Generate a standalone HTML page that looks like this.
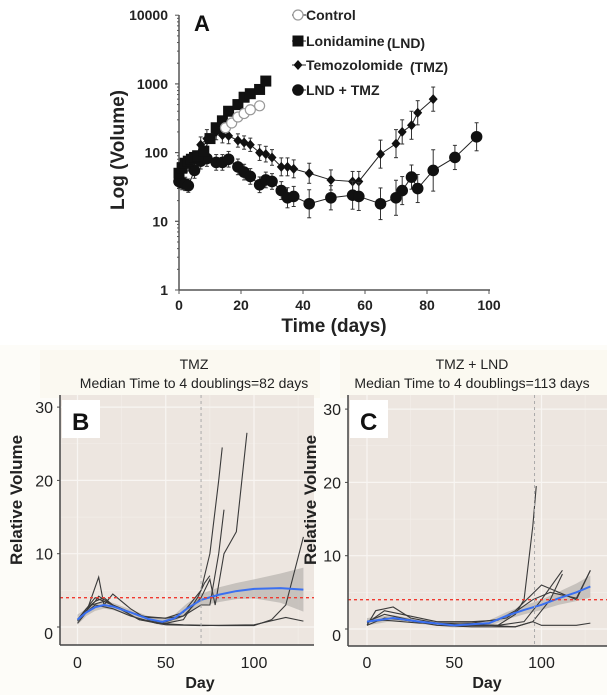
<!DOCTYPE html>
<html><head><meta charset="utf-8"><style>
html,body{margin:0;padding:0;background:#fff;}
svg{display:block;font-family:"Liberation Sans",Arial,sans-serif;}
</style></head><body>
<svg id="fig" width="607" height="695" viewBox="0 0 607 695" xmlns="http://www.w3.org/2000/svg">
<rect x="0" y="345" width="607" height="350" fill="#fdfcf8"/>
</svg>
<script>
// ---------- Panel A data ----------
const ctrlDays=[15,17,19,21,23,26];
const ctrlVals=[230,270,330,370,420,480];
const lndDays=[0,1,2,3,4,5,6,8,10,12,14,16,19,21,23,26,28];
const lndVals=[50,60,70,75,80,85,90,105,160,230,290,400,500,640,720,830,1100];
const tmzDays=[0,1,2,3,5,7,9,12,14,16,19,21,23,26,28,30,33,35,37,42,49,56,58,65,70,72,75,77,82];
const tmzVals=[55,60,65,70,80,130,160,200,180,175,150,140,130,100,95,85,62,62,58,50,40,38,38,95,135,200,250,380,600];
const tmzErr=[1.3,1.3,1.3,1.3,1.3,1.3,1.35,1.3,1.3,1.3,1.25,1.25,1.25,1.3,1.3,1.3,1.35,1.35,1.35,1.4,1.4,1.4,1.4,1.6,1.6,1.5,1.6,1.5,1.5];
const comboDays=[0,1,2,3,5,7,9,12,14,16,19,21,23,26,28,30,33,35,37,42,49,56,58,65,70,72,75,77,82,89,96];
const comboVals=[38,36,35,33,55,75,82,72,72,80,62,52,45,34,40,38,28,22,23,18,22,24,23,18,22,28,44,30,55,85,170];
const comboErr=[1.25,1.25,1.25,1.25,1.3,1.3,1.3,1.3,1.3,1.3,1.3,1.3,1.3,1.3,1.3,1.3,1.35,1.4,1.4,1.6,1.5,1.6,1.6,1.7,1.8,1.6,1.5,1.6,2,1.5,1.6];
const aXTicks=[0,20,40,60,80,100];
const aYTicks=[1,10,100,1000,10000];

// ---------- Panel B data ----------
const bLines=[
 [[0,1],[5,2.5],[10,3.5],[15,4],[20,3],[30,2],[40,1.3],[50,1.2],[60,2],[70,5],[75,10],[80,20],[82,24.5]],
 [[0,0.5],[5,2],[12,6.8],[15,3],[20,4.5],[30,2.5],[40,1],[50,0.7],[60,1.5],[70,4],[75,6.5],[78,3],[83,10],[90,13],[96,26.5]],
 [[0,0.8],[8,3],[15,3.5],[25,2.5],[35,1.5],[50,1.2],[60,1.5],[70,3],[75,3],[80,10],[83,16]],
 [[0,1],[10,3],[20,2.5],[30,1.5],[45,0.5],[60,0.3],[80,0.2],[100,0.2],[110,1],[118,3],[128,12.3]],
 [[0,1],[10,4],[20,3],[35,1],[50,0.3],[70,0.2],[100,0.3],[118,1.3],[128,0.8]],
 [[0,1],[10,3.5],[12,4.2],[20,3],[35,1],[50,0.5],[60,1],[68,4],[72,6],[75,7]]
];
const bFitDays=[0,5,10,15,20,30,40,48,55,62,70,80,90,100,115,128];
const bFitVals=[1,2,2.7,3,2.8,2,1.1,0.7,1.2,2.5,3.7,4.4,4.9,5.2,5.3,5.1];
const bFitSe=[0.7,0.5,0.5,0.5,0.5,0.4,0.4,0.5,0.5,0.7,0.8,1,1.1,1.3,2,3];
// ---------- Panel C data ----------
const cLines=[
 [[0,0.5],[5,2.5],[15,3],[25,1.5],[40,0.8],[60,0.5],[75,0.5],[85,2],[90,4],[95,14],[97,19.5]],
 [[0,0.8],[10,2.5],[20,2],[40,1],[60,1],[75,1.2],[85,2.5],[100,6],[110,5],[120,4],[128,8]],
 [[0,1],[10,2],[30,1],[50,0.6],[75,0.5],[90,1],[100,4],[112,8]],
 [[0,0.5],[10,1.5],[30,1],[50,0.5],[70,0.5],[85,0.3],[95,1],[105,4],[112,7.5]],
 [[0,1],[15,1.5],[40,0.5],[60,0.3],[85,0.3],[95,1],[100,0.5],[120,0.5],[128,0.8]],
 [[0,1],[10,1.2],[30,0.8],[60,0.8],[80,1.5],[95,4],[105,5],[120,4.2],[128,8]]
];
const cFitDays=[0,15,30,50,70,80,90,100,110,120,128];
const cFitVals=[1,1.5,1,0.5,0.8,1.8,2.6,3.3,4.2,5,5.8];
const cFitSe=[0.5,0.4,0.3,0.3,0.4,0.5,0.6,0.7,0.9,1.2,1.5];
const relYTicks=[0,10,20,30];
const dayTicks=[0,50,100];

const NS="http://www.w3.org/2000/svg";
const svg=document.getElementById('fig');
function mk(tag,attrs,parent){const e=document.createElementNS(NS,tag);for(const k in attrs)e.setAttribute(k,attrs[k]);(parent||svg).appendChild(e);return e;}
function txt(s,attrs,parent){const e=mk('text',attrs,parent);e.textContent=s;return e;}

// ===== Panel A =====
const ax=d=>179+d*3.1;
const ay=v=>290-Math.log10(v)*68.7;
const gA=mk('g',{});


let l=mk('line',{x1:179,y1:15,x2:179,y2:290,stroke:'#555','stroke-width':1.5},gA);

l=mk('line',{x1:179,y1:290,x2:490,y2:290,stroke:'#555','stroke-width':1.5},gA);

for(let dec=0;dec<4;dec++){for(let m=1;m<=10;m++){const v=Math.pow(10,dec)*m;mk('line',{x1:m===1||m===10?175:177,y1:ay(v),x2:179,y2:ay(v),stroke:'#555','stroke-width':1},gA);}}
aYTicks.forEach(v=>{const t=txt(String(v),{x:168,y:ay(v)+5,'text-anchor':'end','font-size':14,'font-weight':'bold',fill:'#222'},gA);
});
aXTicks.forEach(d=>{mk('line',{x1:ax(d),y1:290,x2:ax(d),y2:294,stroke:'#555'},gA);
const t=txt(String(d),{x:ax(d),y:310,'text-anchor':'middle','font-size':14,'font-weight':'bold',fill:'#222'},gA);
});
let t=txt('Log (Volume)',{x:0,y:0,transform:'translate(124,150) rotate(-90)','text-anchor':'middle','font-size':19,'font-weight':'bold',fill:'#222'},gA);

t=txt('Time (days)',{x:334,y:332,'text-anchor':'middle','font-size':19,'font-weight':'bold',fill:'#222'},gA);

t=txt('A',{x:194,y:31,'font-size':22,'font-weight':'bold',fill:'#111'},gA);


function marker(type,x,y,g){
 if(type==='sq')return mk('rect',{x:x-5.5,y:y-5.5,width:11,height:11,fill:'#111'},g);
 if(type==='dia')return mk('path',{d:`M${x},${y-5}L${x+4.5},${y}L${x},${y+5}L${x-4.5},${y}Z`,fill:'#111'},g);
 if(type==='circ')return mk('circle',{cx:x,cy:y,r:5.8,fill:'#111'},g);
 return mk('circle',{cx:x,cy:y,r:5,fill:'#fff',stroke:'#999','stroke-width':1.2},g);
}
function seriesA(days,vals,err,type,name){
 const g=mk('g',{},gA);
 
 if(err){days.forEach((d,i)=>{const x=ax(d);mk('line',{x1:x,y1:ay(vals[i]*err[i]),x2:x,y2:ay(vals[i]/err[i]),stroke:'#333','stroke-width':1},g);
 mk('line',{x1:x-2,y1:ay(vals[i]*err[i]),x2:x+2,y2:ay(vals[i]*err[i]),stroke:'#333'},g);
 mk('line',{x1:x-2,y1:ay(vals[i]/err[i]),x2:x+2,y2:ay(vals[i]/err[i]),stroke:'#333'},g);});}
 mk('polyline',{points:days.map((d,i)=>ax(d)+','+ay(vals[i])).join(' '),fill:'none',stroke:type==='open'?'#999':'#222','stroke-width':1},g);
 days.forEach((d,i)=>{const m=marker(type,ax(d),ay(vals[i]),g);
 });
}
seriesA(tmzDays,tmzVals,tmzErr,'dia','tmz-series');
seriesA(comboDays,comboVals,comboErr,'circ','lnd-tmz-series');
seriesA(lndDays,lndVals,null,'sq','lnd-series');
seriesA(ctrlDays,ctrlVals,null,'open','control-series');

// legend
const legend=[['open','Control','',15],['sq','Lonidamine','(LND)',41],['dia','Temozolomide','(TMZ)',65],['circ','LND + TMZ','',90]];
legend.forEach(([ty,a,b,y])=>{const g=mk('g',{},gA);
 
 mk('line',{x1:292,y1:y,x2:306,y2:y,stroke:'#222'},g);marker(ty,298,y,g);
 txt(a,{x:306,y:y+5,'font-size':14,'font-weight':'bold',fill:'#222'},g);
 if(b){txt(b,{x:306+(a==='Lonidamine'?81:104),y:y+7,'font-size':14,'font-weight':'bold',fill:'#222'},g);}
});

// ===== Panels B & C =====
function facet(o){
 const g=mk('g',{});
 
 const X=d=>o.x0+d*o.xs, Y=v=>o.y0-v*7.33;
 mk('rect',{x:o.tx0,y:350,width:o.tx1-o.tx0,height:48,fill:'#fbf9f1'},g);
 let r=mk('rect',{x:o.px0,y:395,width:o.px1-o.px0,height:o.pb-395,fill:'#ede6e0'},g);
 
 [5,15,25].forEach(v=>mk('line',{x1:o.px0,x2:o.px1,y1:Y(v),y2:Y(v),stroke:'#f4efea','stroke-width':0.6},g));
 [25,75,125].forEach(d=>mk('line',{x1:X(d),x2:X(d),y1:395,y2:o.pb,stroke:'#f4efea','stroke-width':0.6},g));
 relYTicks.forEach(v=>mk('line',{x1:o.px0,x2:o.px1,y1:Y(v),y2:Y(v),stroke:'#f8f5f2','stroke-width':1.2},g));
 dayTicks.forEach(d=>mk('line',{x1:X(d),x2:X(d),y1:395,y2:o.pb,stroke:'#f8f5f2','stroke-width':1.2},g));
 const up=o.fd.map((d,i)=>X(d)+','+Y(o.fv[i]+o.fs[i]));
 const lo=o.fd.map((d,i)=>X(d)+','+Y(Math.max(o.fv[i]-o.fs[i],-1))).reverse();
 let p=mk('polygon',{points:up.concat(lo).join(' '),fill:'#b9b5b1',opacity:0.75},g);
 
 o.lines.forEach(ln=>{const q=mk('polyline',{points:ln.map(([d,v])=>X(d)+','+Y(v)).join(' '),fill:'none',stroke:'#3a3a3a','stroke-width':1.1},g);
 });
 p=mk('polyline',{points:o.fd.map((d,i)=>X(d)+','+Y(o.fv[i])).join(' '),fill:'none',stroke:'#3a6ff0','stroke-width':2},g);
 
 p=mk('line',{x1:o.px0,x2:o.px1,y1:Y(4),y2:Y(4),stroke:'#f03a30','stroke-width':1.4,'stroke-dasharray':'3,3'},g);
 
 p=mk('line',{x1:X(o.med),x2:X(o.med),y1:395,y2:o.pb,stroke:'#aaa','stroke-width':1,'stroke-dasharray':'3,3'},g);
 
 mk('line',{x1:o.px0,y1:395,x2:o.px0,y2:o.pb,stroke:'#444','stroke-width':1.5},g);
 mk('line',{x1:o.px0,y1:o.pb,x2:o.px1,y2:o.pb,stroke:'#444','stroke-width':1.5},g);
 relYTicks.forEach(v=>{mk('line',{x1:o.px0-3,x2:o.px0,y1:Y(v),y2:Y(v),stroke:'#444'},g);
 const tt=txt(String(v),{x:o.px0-7,y:Y(v)+(v===0?12:6),'text-anchor':'end','font-size':16,fill:'#222'},g);
 });
 dayTicks.forEach(d=>{const tt=txt(String(d),{x:X(d),y:668,'text-anchor':'middle','font-size':16,fill:'#222'},g);
 });
 let tt=txt('Day',{x:o.dayX,y:688,'text-anchor':'middle','font-size':16,'font-weight':'bold',fill:'#222'},g);
 
 tt=txt('Relative Volume',{x:0,y:0,transform:`translate(${o.ylx},500) rotate(-90)`,'text-anchor':'middle','font-size':17,'font-weight':'bold',fill:'#222'},g);
 
 tt=txt(o.title,{x:o.tc,y:369,'text-anchor':'middle','font-size':14,fill:'#222'},g);
 
 tt=txt(o.sub,{x:o.tc,y:388,'text-anchor':'middle','font-size':14,fill:'#222'},g);
 
 mk('rect',{x:o.px0+2,y:400,width:38,height:38,fill:'#fff'},g);
 tt=txt(o.letter,{x:o.px0+12,y:430,'font-size':24,'font-weight':'bold',fill:'#111'},g);
 
}
facet({name:'panel-b-chart',x0:77.5,xs:1.765,y0:627,px0:60,px1:314,pb:645,tx0:40,tx1:320,
 lines:bLines,fd:bFitDays,fv:bFitVals,fs:bFitSe,med:70,dayX:200,ylx:22,tc:194,letter:'B',
 title:'TMZ',sub:'Median Time to 4 doublings=82 days'});
facet({name:'panel-c-chart',x0:367,xs:1.745,y0:629,px0:348,px1:607,pb:646,tx0:340,tx1:607,
 lines:cLines,fd:cFitDays,fv:cFitVals,fs:cFitSe,med:96,dayX:487,ylx:316,tc:472,letter:'C',
 title:'TMZ + LND',sub:'Median Time to 4 doublings=113 days'});
</script>
</body></html>
